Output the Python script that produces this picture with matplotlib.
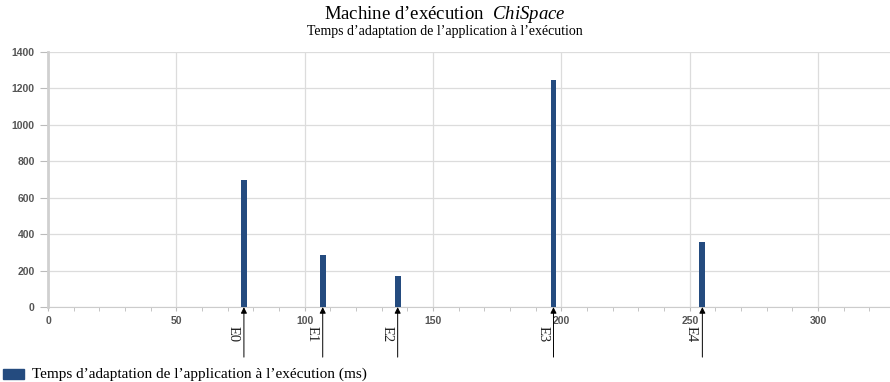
import matplotlib.pyplot as plt
import matplotlib.transforms as mtransforms
from matplotlib.patches import Rectangle

plt.rcParams['mathtext.fontset'] = 'custom'
plt.rcParams['mathtext.it'] = 'Liberation Serif:italic'
plt.rcParams['mathtext.rm'] = 'Liberation Serif'

# data
events = ['E0', 'E1', 'E2', 'E3', 'E4']
event_x = [76.3, 107.0, 136.2, 196.9, 254.9]
adapt_ms = [695, 285, 172, 1248, 358]

bar_color = '#244b7f'

fig = plt.figure(figsize=(8.9, 3.82), dpi=100)
ax = fig.add_axes([0.054, 0.196, 0.946, 0.668])

ax.bar(event_x, adapt_ms, width=2.3, color=bar_color, zorder=3)

ax.set_xlim(0, 328)
ax.set_ylim(0, 1400)
ax.set_xticks(range(0, 301, 50))
ax.set_xticks(range(0, 328, 10), minor=True)
ax.set_yticks(range(0, 1401, 200))
ax.grid(True, color='#dcdcdc', linewidth=0.9, zorder=0)

for s in ['top', 'right']:
    ax.spines[s].set_visible(False)
ax.spines['left'].set_color('#d0d0d0')
ax.spines['left'].set_linewidth(2)
ax.spines['bottom'].set_color('#cccccc')
ax.tick_params(axis='both', which='both', colors='#bbbbbb', labelcolor='#555555',
               labelsize=7.5, length=3)
ax.tick_params(axis='y', length=6)
for lab in ax.get_xticklabels() + ax.get_yticklabels():
    lab.set_family('Liberation Sans')
    lab.set_fontweight('bold')

# event arrows below the axis
trans = mtransforms.blended_transform_factory(ax.transData, ax.transAxes)
for name, x in zip(events, event_x):
    ax.annotate('', xy=(x, 0), xycoords=trans, xytext=(0, -36),
                textcoords='offset points',
                arrowprops=dict(arrowstyle='-|>', color='black', lw=0.7,
                                mutation_scale=9, shrinkA=0, shrinkB=0),
                annotation_clip=False)
    ax.text(x - 4.2, -0.075, name, transform=trans, rotation=-90, ha='center',
            va='top', fontsize=10.5, family='Liberation Serif', color='#222222')

fig.text(0.5, 0.962, 'Machine d\u2019exécution  $\\it{ChiSpace}$', ha='center',
         va='center', fontsize=13.5, family='Liberation Serif')
fig.text(0.5, 0.918, 'Temps d\u2019adaptation de l\u2019application à l\u2019exécution',
         ha='center', va='center', fontsize=10, family='Liberation Serif')

# legend at bottom-left
fig.patches.append(Rectangle((0.003, 0.008), 0.024, 0.026, transform=fig.transFigure,
                             color=bar_color, figure=fig))
fig.text(0.036, 0.02, "Temps d\u2019adaptation de l\u2019application à l\u2019exécution (ms)",
         va='center', fontsize=11, family='Liberation Serif')

fig.savefig('out.png', dpi=100)
